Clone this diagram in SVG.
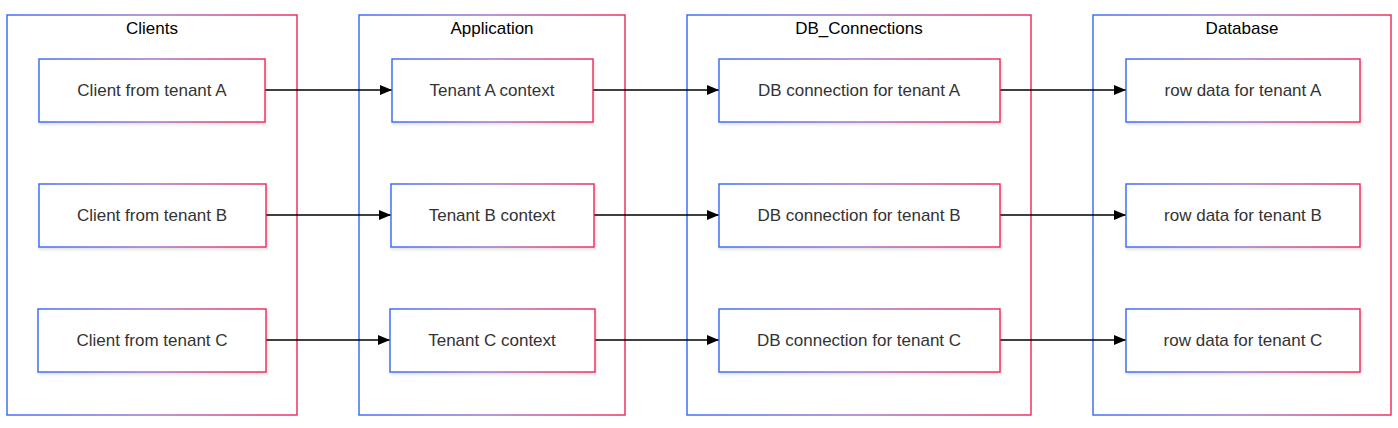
<svg xmlns="http://www.w3.org/2000/svg" width="1398" height="428" viewBox="0 0 1398 428">
<defs>
<linearGradient id="g" x1="0" y1="0" x2="1" y2="0">
<stop offset="0" stop-color="#3366f5"/>
<stop offset="0.5" stop-color="#9a6cc4"/>
<stop offset="1" stop-color="#ee2456"/>
</linearGradient>
<filter id="sh" x="-5%" y="-10%" width="110%" height="130%">
<feDropShadow dx="1" dy="2" stdDeviation="1.5" flood-color="#000" flood-opacity="0.12"/>
</filter>
<marker id="ah" viewBox="0 0 12 10" refX="12" refY="5" markerWidth="12" markerHeight="10" markerUnits="userSpaceOnUse" orient="auto">
<path d="M0,0 L12,5 L0,10 z" fill="#000"/>
</marker>
</defs>
<style>
.cl{fill:#fff;stroke:url(#g);stroke-width:1.4}
.nd{fill:#fff;stroke:url(#g);stroke-width:1.4;filter:url(#sh)}
.ct{font-family:"Liberation Sans",Arial,sans-serif;font-size:17px;fill:#000;text-anchor:middle}
.nt{font-family:"Liberation Sans",Arial,sans-serif;font-size:17px;fill:#333;text-anchor:middle;dominant-baseline:central}
.ed{stroke:#000;stroke-width:1.3;fill:none;marker-end:url(#ah)}
</style>
<rect width="1398" height="428" fill="#fff"/>
<g id="cluster-Clients"><rect class="cl" x="7" y="15" width="290" height="400"/><text class="ct" x="152" y="34">Clients</text></g>
<g id="cluster-Application"><rect class="cl" x="359" y="15" width="266" height="400"/><text class="ct" x="492" y="34">Application</text></g>
<g id="cluster-DB_Connections"><rect class="cl" x="687" y="15" width="344" height="400"/><text class="ct" x="859" y="34">DB_Connections</text></g>
<g id="cluster-Database"><rect class="cl" x="1093" y="15" width="298" height="400"/><text class="ct" x="1242" y="34">Database</text></g>
<g id="connectors">
<path class="ed" d="M265,90 L392,90"/>
<path class="ed" d="M266,215 L391,215"/>
<path class="ed" d="M266,340 L390,340"/>
<path class="ed" d="M593,90 L719,90"/>
<path class="ed" d="M594,215 L719,215"/>
<path class="ed" d="M595,340 L719,340"/>
<path class="ed" d="M1000,90 L1126,90"/>
<path class="ed" d="M1000,215 L1126,215"/>
<path class="ed" d="M1000,340 L1126,340"/>
</g>
<g id="clientA"><rect class="nd" x="39" y="59" width="226" height="63"/><text class="nt" x="152" y="90.5">Client from tenant A</text></g>
<g id="clientB"><rect class="nd" x="39" y="184" width="227" height="63"/><text class="nt" x="152" y="215.5">Client from tenant B</text></g>
<g id="clientC"><rect class="nd" x="38" y="309" width="228" height="63"/><text class="nt" x="152" y="340.5">Client from tenant C</text></g>
<g id="appA"><rect class="nd" x="392" y="59" width="201" height="63"/><text class="nt" x="492" y="90.5">Tenant A context</text></g>
<g id="appB"><rect class="nd" x="391" y="184" width="203" height="63"/><text class="nt" x="492" y="215.5">Tenant B context</text></g>
<g id="appC"><rect class="nd" x="390" y="309" width="205" height="63"/><text class="nt" x="492" y="340.5">Tenant C context</text></g>
<g id="dbcA"><rect class="nd" x="719" y="59" width="281" height="63"/><text class="nt" x="859" y="90.5">DB connection for tenant A</text></g>
<g id="dbcB"><rect class="nd" x="719" y="184" width="281" height="63"/><text class="nt" x="859" y="215.5">DB connection for tenant B</text></g>
<g id="dbcC"><rect class="nd" x="719" y="309" width="281" height="63"/><text class="nt" x="859" y="340.5">DB connection for tenant C</text></g>
<g id="rowA"><rect class="nd" x="1126" y="59" width="234" height="63"/><text class="nt" x="1243" y="90.5">row data for tenant A</text></g>
<g id="rowB"><rect class="nd" x="1126" y="184" width="234" height="63"/><text class="nt" x="1243" y="215.5">row data for tenant B</text></g>
<g id="rowC"><rect class="nd" x="1126" y="309" width="234" height="63"/><text class="nt" x="1243" y="340.5">row data for tenant C</text></g>
</svg>
